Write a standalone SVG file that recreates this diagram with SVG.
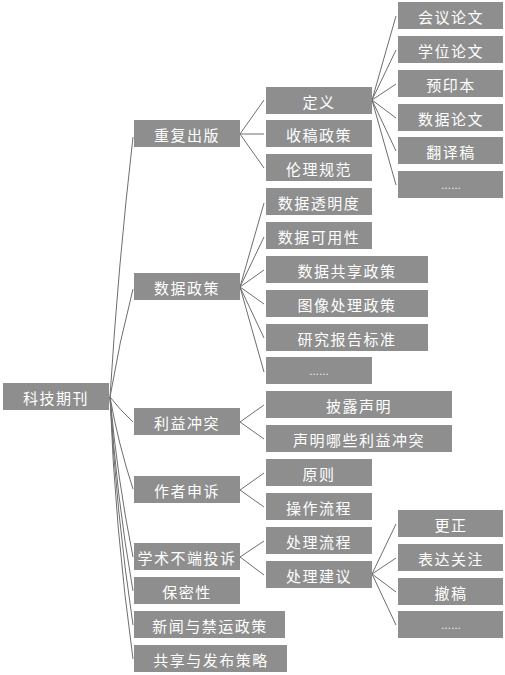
<svg xmlns="http://www.w3.org/2000/svg" width="505" height="675" viewBox="0 0 505 675">
<style>
.n rect{fill:#8e8e8e;}
.n text{fill:#ffffff;font-family:"Noto Sans CJK SC","Noto Sans",sans-serif;font-size:15px;letter-spacing:1.5px;text-anchor:middle;dominant-baseline:central;}
.n text.d{font-family:"Liberation Sans",sans-serif;font-size:10px;letter-spacing:0;dominant-baseline:auto;}
.c path{stroke:#6e6e6e;stroke-width:1;fill:none;}
</style>
<rect width="505" height="675" fill="#ffffff"/>
<g id="connectors" class="c">
<path d="M110,397 Q118,267 133,137"/>
<path d="M110,397 Q119,343 133,289"/>
<path d="M110,397 Q120,410 133,422"/>
<path d="M110,397 Q118,443 133,489"/>
<path d="M110,397 Q117,477 133,557"/>
<path d="M110,397 Q116,494 133,591"/>
<path d="M110,397 Q116,511 133,625"/>
<path d="M110,397 Q115,528 133,659"/>
<path d="M240,134 L264,100"/>
<path d="M240,134 L264,134"/>
<path d="M240,134 L264,168"/>
<path d="M240,287 L264,203"/>
<path d="M240,287 L264,237"/>
<path d="M240,287 L264,270"/>
<path d="M240,287 L264,304"/>
<path d="M240,287 L264,338"/>
<path d="M240,287 L264,372"/>
<path d="M240,422 L264,405"/>
<path d="M240,422 L264,439"/>
<path d="M240,490 L264,473"/>
<path d="M240,490 L264,507"/>
<path d="M240,557 L264,541"/>
<path d="M240,557 L264,575"/>
<path d="M372,100 L396,16"/>
<path d="M372,100 L396,50"/>
<path d="M372,100 L396,84"/>
<path d="M372,100 L396,118"/>
<path d="M372,100 L396,151"/>
<path d="M372,100 L396,185"/>
<path d="M372,574 L396,524"/>
<path d="M372,574 L396,558"/>
<path d="M372,574 L396,592"/>
<path d="M372,574 L396,625"/>
</g>
<g id="root" class="n"><rect x="3" y="383" width="106" height="27"/><text x="56" y="397">科技期刊</text></g>
<g id="n1" class="n"><rect x="134" y="120" width="106" height="27"/><text x="187" y="134">重复出版</text></g>
<g id="n2" class="n"><rect x="134" y="273" width="106" height="27"/><text x="187" y="287">数据政策</text></g>
<g id="n3" class="n"><rect x="134" y="408" width="106" height="27"/><text x="187" y="422">利益冲突</text></g>
<g id="n4" class="n"><rect x="134" y="476" width="106" height="27"/><text x="187" y="490">作者申诉</text></g>
<g id="n5" class="n"><rect x="134" y="543" width="106" height="27"/><text x="187" y="557">学术不端投诉</text></g>
<g id="n6" class="n"><rect x="134" y="577" width="106" height="27"/><text x="187" y="591">保密性</text></g>
<g id="n7" class="n"><rect x="134" y="611" width="151" height="27"/><text x="210" y="625">新闻与禁运政策</text></g>
<g id="n8" class="n"><rect x="134" y="645" width="153" height="27"/><text x="211" y="659">共享与发布策略</text></g>
<g id="n1a" class="n"><rect x="266" y="87" width="106" height="27"/><text x="319" y="101">定义</text></g>
<g id="n1b" class="n"><rect x="266" y="120" width="106" height="27"/><text x="319" y="134">收稿政策</text></g>
<g id="n1c" class="n"><rect x="266" y="154" width="106" height="27"/><text x="319" y="168">伦理规范</text></g>
<g id="n2a" class="n"><rect x="266" y="188" width="106" height="27"/><text x="319" y="202">数据透明度</text></g>
<g id="n2b" class="n"><rect x="266" y="222" width="106" height="27"/><text x="319" y="236">数据可用性</text></g>
<g id="n2c" class="n"><rect x="266" y="256" width="162" height="27"/><text x="347" y="270">数据共享政策</text></g>
<g id="n2d" class="n"><rect x="266" y="290" width="162" height="27"/><text x="347" y="304">图像处理政策</text></g>
<g id="n2e" class="n"><rect x="266" y="324" width="162" height="27"/><text x="347" y="338">研究报告标准</text></g>
<g id="n2f" class="n"><rect x="266" y="357" width="106" height="27"/><text class="d" x="319" y="375">……</text></g>
<g id="n3a" class="n"><rect x="266" y="391" width="186" height="27"/><text x="359" y="405">披露声明</text></g>
<g id="n3b" class="n"><rect x="266" y="425" width="186" height="27"/><text x="359" y="439">声明哪些利益冲突</text></g>
<g id="n4a" class="n"><rect x="266" y="459" width="106" height="27"/><text x="319" y="473">原则</text></g>
<g id="n4b" class="n"><rect x="266" y="493" width="106" height="27"/><text x="319" y="507">操作流程</text></g>
<g id="n5a" class="n"><rect x="266" y="527" width="106" height="27"/><text x="319" y="541">处理流程</text></g>
<g id="n5b" class="n"><rect x="266" y="561" width="106" height="27"/><text x="319" y="575">处理建议</text></g>
<g id="n1a1" class="n"><rect x="398" y="2" width="105" height="27"/><text x="451" y="16">会议论文</text></g>
<g id="n1a2" class="n"><rect x="398" y="36" width="105" height="27"/><text x="451" y="50">学位论文</text></g>
<g id="n1a3" class="n"><rect x="398" y="70" width="105" height="27"/><text x="451" y="84">预印本</text></g>
<g id="n1a4" class="n"><rect x="398" y="104" width="105" height="27"/><text x="451" y="118">数据论文</text></g>
<g id="n1a5" class="n"><rect x="398" y="137" width="105" height="27"/><text x="451" y="151">翻译稿</text></g>
<g id="n1a6" class="n"><rect x="398" y="171" width="105" height="27"/><text class="d" x="451" y="189">……</text></g>
<g id="n5b1" class="n"><rect x="398" y="510" width="105" height="27"/><text x="451" y="524">更正</text></g>
<g id="n5b2" class="n"><rect x="398" y="544" width="105" height="27"/><text x="451" y="558">表达关注</text></g>
<g id="n5b3" class="n"><rect x="398" y="578" width="105" height="27"/><text x="451" y="592">撤稿</text></g>
<g id="n5b4" class="n"><rect x="398" y="611" width="105" height="27"/><text class="d" x="451" y="629">……</text></g>
</svg>
